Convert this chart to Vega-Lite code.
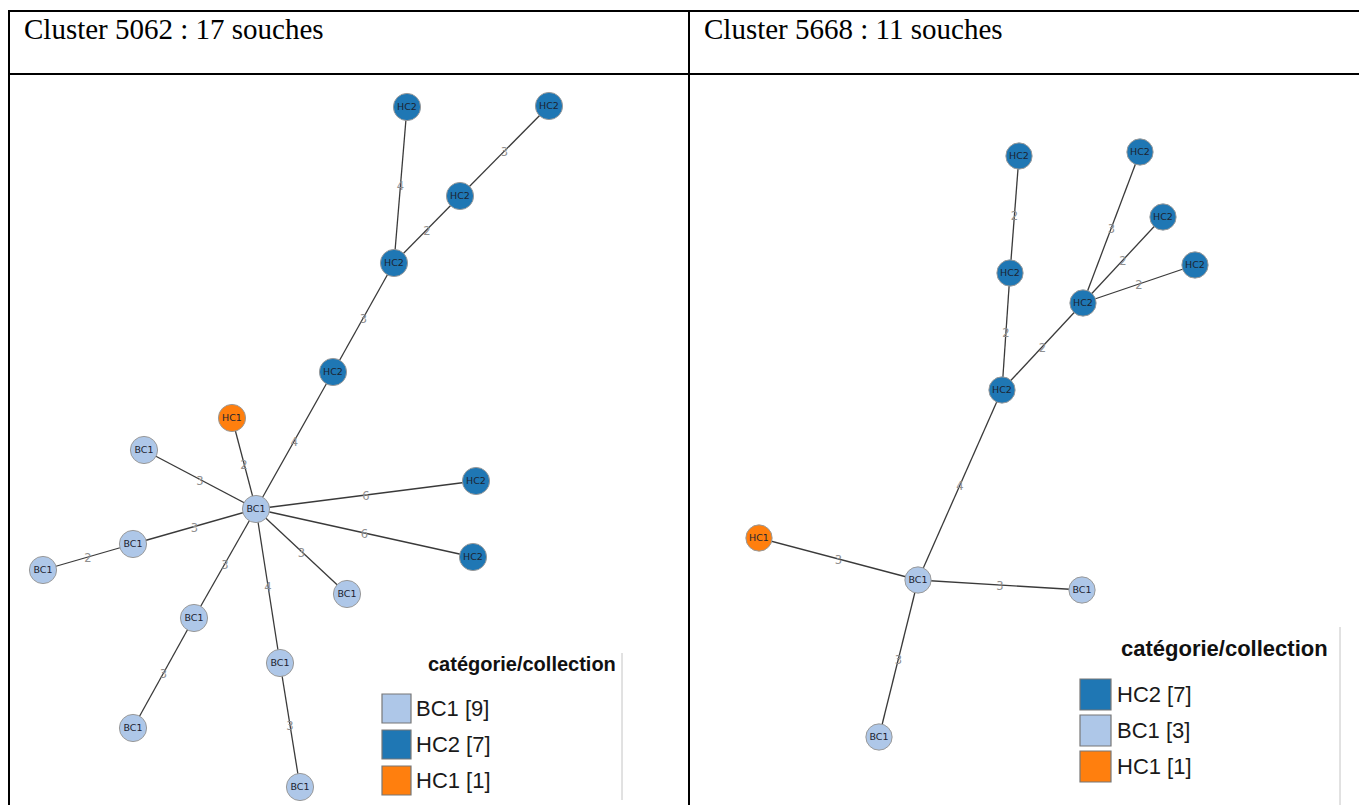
{
  "$schema": "https://vega.github.io/schema/vega-lite/v6.json",
  "width": 1359,
  "height": 805,
  "padding": 0,
  "autosize": "none",
  "background": "white",
  "config": {"view": {"stroke": null}},
  "datasets": {
    "tableau": [
      {"trait": "cadre", "x": 8, "y": 11, "x2": 1359, "y2": 11},
      {"trait": "cadre", "x": 8, "y": 74, "x2": 1359, "y2": 74},
      {"trait": "cadre", "x": 9, "y": 10, "x2": 9, "y2": 805},
      {"trait": "cadre", "x": 689, "y": 10, "x2": 689, "y2": 805},
      {"trait": "bord", "x": 622, "y": 653, "x2": 622, "y2": 800},
      {"trait": "bord", "x": 1340, "y": 627, "x2": 1340, "y2": 805}
    ],
    "titres": [
      {"x": 24, "y": 38.5, "texte": "Cluster 5062 : 17 souches"},
      {"x": 704, "y": 38.5, "texte": "Cluster 5668 : 11 souches"}
    ],
    "noeuds": [
      {"cluster": "5062", "id": "c", "cat": "BC1", "x": 256, "y": 509},
      {"cluster": "5062", "id": "hc1", "cat": "HC1", "x": 232, "y": 418},
      {"cluster": "5062", "id": "a1", "cat": "HC2", "x": 333, "y": 372},
      {"cluster": "5062", "id": "a2", "cat": "HC2", "x": 394, "y": 263},
      {"cluster": "5062", "id": "a3", "cat": "HC2", "x": 407, "y": 107},
      {"cluster": "5062", "id": "a4", "cat": "HC2", "x": 460, "y": 196},
      {"cluster": "5062", "id": "a5", "cat": "HC2", "x": 549, "y": 106},
      {"cluster": "5062", "id": "a6", "cat": "HC2", "x": 476, "y": 481},
      {"cluster": "5062", "id": "a7", "cat": "HC2", "x": 473, "y": 557},
      {"cluster": "5062", "id": "b1", "cat": "BC1", "x": 144, "y": 450},
      {"cluster": "5062", "id": "b2", "cat": "BC1", "x": 133, "y": 544},
      {"cluster": "5062", "id": "b3", "cat": "BC1", "x": 43, "y": 570},
      {"cluster": "5062", "id": "b4", "cat": "BC1", "x": 194, "y": 618},
      {"cluster": "5062", "id": "b5", "cat": "BC1", "x": 133, "y": 728},
      {"cluster": "5062", "id": "b6", "cat": "BC1", "x": 280, "y": 663},
      {"cluster": "5062", "id": "b7", "cat": "BC1", "x": 300, "y": 787},
      {"cluster": "5062", "id": "b8", "cat": "BC1", "x": 347, "y": 594},
      {"cluster": "5668", "id": "c", "cat": "BC1", "x": 918, "y": 580},
      {"cluster": "5668", "id": "h1", "cat": "HC1", "x": 759, "y": 538},
      {"cluster": "5668", "id": "b1", "cat": "BC1", "x": 1082, "y": 590},
      {"cluster": "5668", "id": "b2", "cat": "BC1", "x": 879, "y": 737},
      {"cluster": "5668", "id": "p", "cat": "HC2", "x": 1002, "y": 390},
      {"cluster": "5668", "id": "q", "cat": "HC2", "x": 1010, "y": 273},
      {"cluster": "5668", "id": "q2", "cat": "HC2", "x": 1019, "y": 156},
      {"cluster": "5668", "id": "hub", "cat": "HC2", "x": 1083, "y": 303},
      {"cluster": "5668", "id": "r1", "cat": "HC2", "x": 1140, "y": 152},
      {"cluster": "5668", "id": "r2", "cat": "HC2", "x": 1163, "y": 217},
      {"cluster": "5668", "id": "r3", "cat": "HC2", "x": 1195, "y": 265}
    ],
    "aretes": [
      {"cluster": "5062", "x1": 256, "y1": 509, "x2": 232, "y2": 418, "mx": 244, "my": 463.5, "d": 2},
      {"cluster": "5062", "x1": 256, "y1": 509, "x2": 333, "y2": 372, "mx": 294.5, "my": 440.5, "d": 4},
      {"cluster": "5062", "x1": 333, "y1": 372, "x2": 394, "y2": 263, "mx": 363.5, "my": 317.5, "d": 3},
      {"cluster": "5062", "x1": 394, "y1": 263, "x2": 407, "y2": 107, "mx": 400.5, "my": 185, "d": 4},
      {"cluster": "5062", "x1": 394, "y1": 263, "x2": 460, "y2": 196, "mx": 427, "my": 229.5, "d": 2},
      {"cluster": "5062", "x1": 460, "y1": 196, "x2": 549, "y2": 106, "mx": 504.5, "my": 151, "d": 3},
      {"cluster": "5062", "x1": 256, "y1": 509, "x2": 476, "y2": 481, "mx": 366, "my": 495, "d": 6},
      {"cluster": "5062", "x1": 256, "y1": 509, "x2": 473, "y2": 557, "mx": 364.5, "my": 533, "d": 6},
      {"cluster": "5062", "x1": 256, "y1": 509, "x2": 144, "y2": 450, "mx": 200, "my": 479.5, "d": 3},
      {"cluster": "5062", "x1": 256, "y1": 509, "x2": 133, "y2": 544, "mx": 194.5, "my": 526.5, "d": 3},
      {"cluster": "5062", "x1": 133, "y1": 544, "x2": 43, "y2": 570, "mx": 88, "my": 557, "d": 2},
      {"cluster": "5062", "x1": 256, "y1": 509, "x2": 194, "y2": 618, "mx": 225, "my": 563.5, "d": 3},
      {"cluster": "5062", "x1": 194, "y1": 618, "x2": 133, "y2": 728, "mx": 163.5, "my": 673, "d": 3},
      {"cluster": "5062", "x1": 256, "y1": 509, "x2": 280, "y2": 663, "mx": 268, "my": 586, "d": 4},
      {"cluster": "5062", "x1": 280, "y1": 663, "x2": 300, "y2": 787, "mx": 290, "my": 725, "d": 3},
      {"cluster": "5062", "x1": 256, "y1": 509, "x2": 347, "y2": 594, "mx": 301.5, "my": 551.5, "d": 3},
      {"cluster": "5668", "x1": 918, "y1": 580, "x2": 759, "y2": 538, "mx": 838.5, "my": 559, "d": 3},
      {"cluster": "5668", "x1": 918, "y1": 580, "x2": 1082, "y2": 590, "mx": 1000, "my": 585, "d": 3},
      {"cluster": "5668", "x1": 918, "y1": 580, "x2": 879, "y2": 737, "mx": 898.5, "my": 658.5, "d": 3},
      {"cluster": "5668", "x1": 918, "y1": 580, "x2": 1002, "y2": 390, "mx": 960, "my": 485, "d": 4},
      {"cluster": "5668", "x1": 1002, "y1": 390, "x2": 1010, "y2": 273, "mx": 1006, "my": 331.5, "d": 2},
      {"cluster": "5668", "x1": 1010, "y1": 273, "x2": 1019, "y2": 156, "mx": 1014.5, "my": 214.5, "d": 2},
      {"cluster": "5668", "x1": 1002, "y1": 390, "x2": 1083, "y2": 303, "mx": 1042.5, "my": 346.5, "d": 2},
      {"cluster": "5668", "x1": 1083, "y1": 303, "x2": 1140, "y2": 152, "mx": 1111.5, "my": 227.5, "d": 3},
      {"cluster": "5668", "x1": 1083, "y1": 303, "x2": 1163, "y2": 217, "mx": 1123, "my": 260, "d": 2},
      {"cluster": "5668", "x1": 1083, "y1": 303, "x2": 1195, "y2": 265, "mx": 1139, "my": 284, "d": 2}
    ]
  },
  "layer": [
    {
      "data": {"name": "tableau"},
      "transform": [{"filter": "datum.trait === 'cadre'"}],
      "mark": {"type": "rule", "color": "black", "strokeWidth": 2},
      "encoding": {
        "x": {"field": "x", "type": "quantitative", "scale": {"domain": [0, 1359], "nice": false, "zero": false}, "axis": null},
        "y": {"field": "y", "type": "quantitative", "scale": {"domain": [0, 805], "nice": false, "zero": false, "reverse": true}, "axis": null},
        "x2": {"field": "x2"},
        "y2": {"field": "y2"}
      }
    },
    {
      "data": {"name": "tableau"},
      "transform": [{"filter": "datum.trait === 'bord'"}],
      "mark": {"type": "rule", "color": "#c4c4c4", "strokeWidth": 1},
      "encoding": {
        "x": {"field": "x", "type": "quantitative", "scale": {"domain": [0, 1359], "nice": false, "zero": false}, "axis": null},
        "y": {"field": "y", "type": "quantitative", "scale": {"domain": [0, 805], "nice": false, "zero": false, "reverse": true}, "axis": null},
        "x2": {"field": "x2"},
        "y2": {"field": "y2"}
      }
    },
    {
      "data": {"name": "titres"},
      "mark": {"type": "text", "font": "Liberation Serif", "fontSize": 29, "align": "left", "baseline": "alphabetic", "color": "black"},
      "encoding": {
        "x": {"field": "x", "type": "quantitative", "scale": {"domain": [0, 1359], "nice": false, "zero": false}, "axis": null},
        "y": {"field": "y", "type": "quantitative", "scale": {"domain": [0, 805], "nice": false, "zero": false, "reverse": true}, "axis": null},
        "text": {"field": "texte"}
      }
    },
    {
      "data": {"name": "aretes"},
      "mark": {"type": "rule", "color": "#3a3a3a", "strokeWidth": 1.3},
      "encoding": {
        "x": {"field": "x1", "type": "quantitative", "scale": {"domain": [0, 1359], "nice": false, "zero": false}, "axis": null},
        "y": {"field": "y1", "type": "quantitative", "scale": {"domain": [0, 805], "nice": false, "zero": false, "reverse": true}, "axis": null},
        "x2": {"field": "x2"},
        "y2": {"field": "y2"}
      }
    },
    {
      "data": {"name": "aretes"},
      "mark": {"type": "text", "font": "DejaVu Sans", "fontSize": 11.5, "color": "#8f8f8f", "align": "center", "baseline": "middle", "dy": 2},
      "encoding": {
        "x": {"field": "mx", "type": "quantitative", "scale": {"domain": [0, 1359], "nice": false, "zero": false}, "axis": null},
        "y": {"field": "my", "type": "quantitative", "scale": {"domain": [0, 805], "nice": false, "zero": false, "reverse": true}, "axis": null},
        "text": {"field": "d"}
      }
    },
    {
      "data": {"name": "noeuds"},
      "transform": [
        {"filter": "datum.cluster === '5062'"},
        {"joinaggregate": [{"op": "count", "as": "n"}], "groupby": ["cat"]},
        {"calculate": "datum.cat + ' [' + datum.n + ']'", "as": "legende"}
      ],
      "mark": {"type": "point", "shape": "circle", "filled": true, "opacity": 1, "size": 740, "stroke": "#9a9a9a", "strokeWidth": 1},
      "encoding": {
        "x": {"field": "x", "type": "quantitative", "scale": {"domain": [0, 1359], "nice": false, "zero": false}, "axis": null},
        "y": {"field": "y", "type": "quantitative", "scale": {"domain": [0, 805], "nice": false, "zero": false, "reverse": true}, "axis": null},
        "fill": {
          "field": "legende",
          "type": "nominal",
          "scale": {"domain": ["BC1 [9]", "HC2 [7]", "HC1 [1]"], "range": ["#aec7e8", "#1f77b4", "#ff7f0e"]},
          "legend": {
            "orient": "none", "legendX": 365, "legendY": 655, "padding": 0, "symbolOffset": 16,
            "title": "catégorie/collection", "titleFont": "Liberation Sans", "titleFontSize": 20, "titleFontWeight": "bold", "titleColor": "#111111",
            "titlePadding": 18, "titleAnchor": "middle", "titleAlign": "left", "titleLimit": 500,
            "labelFont": "Liberation Sans", "labelFontSize": 22, "labelColor": "#1a1a1a", "labelOffset": 4, "labelLimit": 300,
            "symbolType": "square", "symbolSize": 841, "symbolStrokeColor": "#777777", "symbolStrokeWidth": 1.2, "symbolOpacity": 1,
            "rowPadding": 1
          }
        }
      }
    },
    {
      "data": {"name": "noeuds"},
      "transform": [
        {"filter": "datum.cluster === '5668'"},
        {"joinaggregate": [{"op": "count", "as": "n"}], "groupby": ["cat"]},
        {"calculate": "datum.cat + ' [' + datum.n + ']'", "as": "legende2"}
      ],
      "mark": {"type": "point", "shape": "circle", "filled": true, "opacity": 1, "size": 690, "stroke": "#9a9a9a", "strokeWidth": 1},
      "encoding": {
        "x": {"field": "x", "type": "quantitative", "scale": {"domain": [0, 1359], "nice": false, "zero": false}, "axis": null},
        "y": {"field": "y", "type": "quantitative", "scale": {"domain": [0, 805], "nice": false, "zero": false, "reverse": true}, "axis": null},
        "color": {
          "field": "legende2",
          "type": "nominal",
          "scale": {"domain": ["HC2 [7]", "BC1 [3]", "HC1 [1]"], "range": ["#1f77b4", "#aec7e8", "#ff7f0e"]},
          "legend": {
            "orient": "none", "legendX": 1051, "legendY": 639, "padding": 0, "symbolOffset": 28,
            "title": "catégorie/collection", "titleFont": "Liberation Sans", "titleFontSize": 22, "titleFontWeight": "bold", "titleColor": "#111111",
            "titlePadding": 17, "titleAnchor": "middle", "titleAlign": "left", "titleLimit": 500,
            "labelFont": "Liberation Sans", "labelFontSize": 22, "labelColor": "#1a1a1a", "labelOffset": 5, "labelLimit": 300,
            "symbolType": "square", "symbolSize": 961, "symbolStrokeColor": "#777777", "symbolStrokeWidth": 1.2, "symbolOpacity": 1,
            "rowPadding": -1
          }
        }
      }
    },
    {
      "data": {"name": "noeuds"},
      "mark": {"type": "text", "font": "DejaVu Sans", "fontSize": 9.5, "color": "#1c2330", "align": "center", "baseline": "middle"},
      "encoding": {
        "x": {"field": "x", "type": "quantitative", "scale": {"domain": [0, 1359], "nice": false, "zero": false}, "axis": null},
        "y": {"field": "y", "type": "quantitative", "scale": {"domain": [0, 805], "nice": false, "zero": false, "reverse": true}, "axis": null},
        "text": {"field": "cat"}
      }
    }
  ]
}
